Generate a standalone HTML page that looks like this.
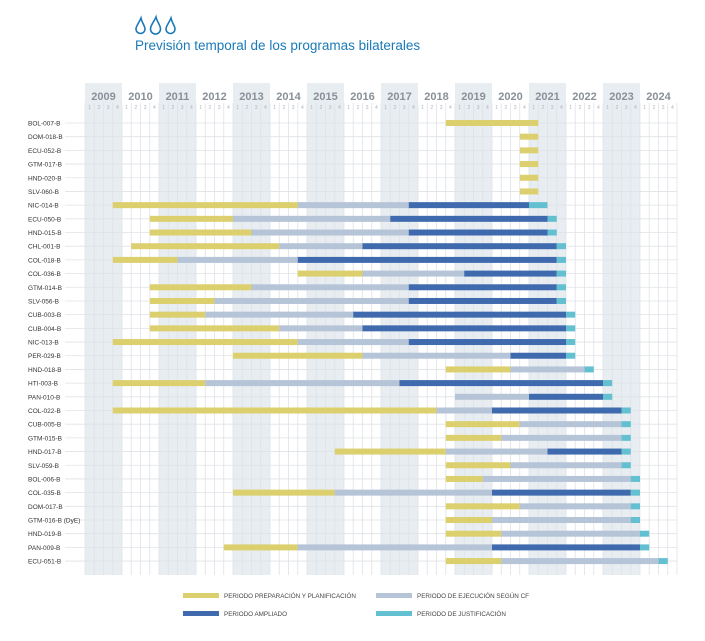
<!DOCTYPE html>
<html><head><meta charset="utf-8"><style>
html,body{margin:0;padding:0;background:#fff;width:705px;height:641px;overflow:hidden}
svg{display:block;font-family:"Liberation Sans",sans-serif}
</style></head><body>
<svg id="s" width="705" height="641" viewBox="0 0 705 641">
<g id="bg"></g>
<g fill="#1a7ab8" stroke="#1a7ab8" stroke-width="1.6">
<path d="M141 18 C139 23 136 26 136 29 a4.5 4.5 0 0 0 9 0 C145 26 142 23 141 18z" fill="none"/>
<path d="M156 17 C154 22 150.5 25 150.5 29 a5 5 0 0 0 10 0 C160.5 25 157 22 156 17z" fill="none"/>
<path d="M171 18 C169 23 166 26 166 29 a4.5 4.5 0 0 0 9 0 C175 26 172 23 171 18z" fill="none"/>
</g>
<text x="135" y="50" font-size="13.5" fill="#1a7ab8">Previsión temporal de los programas bilaterales</text>
<g font-size="11" font-weight="bold" fill="#8a9098" text-anchor="middle">
<text x="103.5" y="100">2009</text><text x="140.5" y="100">2010</text><text x="177.5" y="100">2011</text><text x="214.5" y="100">2012</text><text x="251.5" y="100">2013</text><text x="288.5" y="100">2014</text><text x="325.5" y="100">2015</text><text x="362.5" y="100">2016</text><text x="399.5" y="100">2017</text><text x="436.5" y="100">2018</text><text x="473.5" y="100">2019</text><text x="510.5" y="100">2020</text><text x="547.5" y="100">2021</text><text x="584.5" y="100">2022</text><text x="621.5" y="100">2023</text><text x="658.5" y="100">2024</text>
</g>
<g id="q" font-size="5" fill="#b0b5bb" text-anchor="middle"></g>
<g font-size="6.5" fill="#333" id="lab">
<text x="28" y="125.5">BOL-007-B</text><text x="28" y="139.2">DOM-018-B</text><text x="28" y="152.9">ECU-052-B</text><text x="28" y="166.6">GTM-017-B</text><text x="28" y="180.3">HND-020-B</text><text x="28" y="194">SLV-060-B</text><text x="28" y="207.6">NIC-014-B</text><text x="28" y="221.3">ECU-050-B</text><text x="28" y="235">HND-015-B</text><text x="28" y="248.7">CHL-001-B</text><text x="28" y="262.4">COL-018-B</text><text x="28" y="276.1">COL-036-B</text><text x="28" y="289.8">GTM-014-B</text><text x="28" y="303.5">SLV-056-B</text><text x="28" y="317.2">CUB-003-B</text><text x="28" y="330.9">CUB-004-B</text><text x="28" y="344.5">NIC-013-B</text><text x="28" y="358.2">PER-029-B</text><text x="28" y="371.9">HND-018-B</text><text x="28" y="385.6">HTI-003-B</text><text x="28" y="399.3">PAN-010-B</text><text x="28" y="413">COL-022-B</text><text x="28" y="426.7">CUB-005-B</text><text x="28" y="440.4">GTM-015-B</text><text x="28" y="454.1">HND-017-B</text><text x="28" y="467.8">SLV-059-B</text><text x="28" y="481.4">BOL-006-B</text><text x="28" y="495.1">COL-035-B</text><text x="28" y="508.8">DOM-017-B</text><text x="28" y="522.5">GTM-016-B (DyE)</text><text x="28" y="536.2">HND-019-B</text><text x="28" y="549.9">PAN-009-B</text><text x="28" y="563.6">ECU-051-B</text>
</g>
<g id="bars"></g>
<rect x="183" y="593" width="36" height="5" fill="#dccf6e"/>
<rect x="376" y="593" width="36" height="5" fill="#b6c4d8"/>
<rect x="183" y="611" width="36" height="5" fill="#3f6aad"/>
<rect x="376" y="611" width="36" height="5" fill="#62c0d0"/>
<g font-size="6.3" fill="#444">
<text x="224" y="598">PERIODO PREPARACIÓN Y PLANIFICACIÓN</text>
<text x="417" y="598">PERIODO DE EJECUCIÓN SEGÚN CF</text>
<text x="224" y="616">PERIODO AMPLIADO</text>
<text x="417" y="616">PERIODO DE JUSTIFICACIÓN</text>
</g>
</svg>
<script>
var NS="http://www.w3.org/2000/svg";
function el(p,t,a){var e=document.createElementNS(NS,t);for(var k in a)e.setAttribute(k,a[k]);p.appendChild(e);return e;}
var bg=document.getElementById('bg'),bars=document.getElementById('bars'),qg=document.getElementById('q');
var x0=85,qw=9.25,y0=123,rp=13.69;
for(var y=0;y<16;y+=2)el(bg,'rect',{x:x0+y*37,y:83,width:37,height:492,fill:'#e8edf2'});
for(var i=0;i<=64;i++)el(bg,'line',{x1:x0+i*qw,y1:103,x2:x0+i*qw,y2:575,stroke:'#dfe2e6','stroke-width':0.8});
for(var r=0;r<33;r++){var yy=y0+r*rp;el(bg,'line',{x1:65,y1:yy,x2:677,y2:yy,stroke:'#dfe2e6','stroke-width':0.8});}
for(var i=0;i<64;i++){var t=el(qg,'text',{x:x0+i*qw+4.6,y:109});t.textContent=(i%4)+1;}
var C=['#dccf6e','#b6c4d8','#3f6aad','#62c0d0'];
// [start, yEnd, gEnd, bEnd, cEnd]
var D=[[39,49,49,49,49],[47,49,49,49,49],[47,49,49,49,49],[47,49,49,49,49],[47,49,49,49,49],[47,49,49,49,49],
[3,23,35,48,50],[7,16,33,50,51],[7,18,35,50,51],[5,21,30,51,52],[3,10,23,51,52],[23,30,41,51,52],
[7,18,35,51,52],[7,14,35,51,52],[7,13,29,52,53],[7,21,30,52,53],[3,23,35,52,53],[16,30,46,52,53],
[39,46,54,54,55],[3,13,34,56,57],[40,40,48,56,57],[3,38,44,58,59],[39,47,58,58,59],[39,45,58,58,59],
[27,39,50,58,59],[39,46,58,58,59],[39,43,59,59,60],[16,27,44,59,60],[39,47,59,59,60],[39,44,59,59,60],
[39,45,60,60,61],[15,23,44,60,61],[39,45,62,62,63]];
D.forEach(function(d,r){var yy=y0+r*rp-3;for(var k=0;k<4;k++){var a=d[k],b=d[k+1];if(b>a)el(bars,'rect',{x:x0+a*qw,y:yy,width:(b-a)*qw,height:6,fill:C[k]});}});
</script>
</body></html>
